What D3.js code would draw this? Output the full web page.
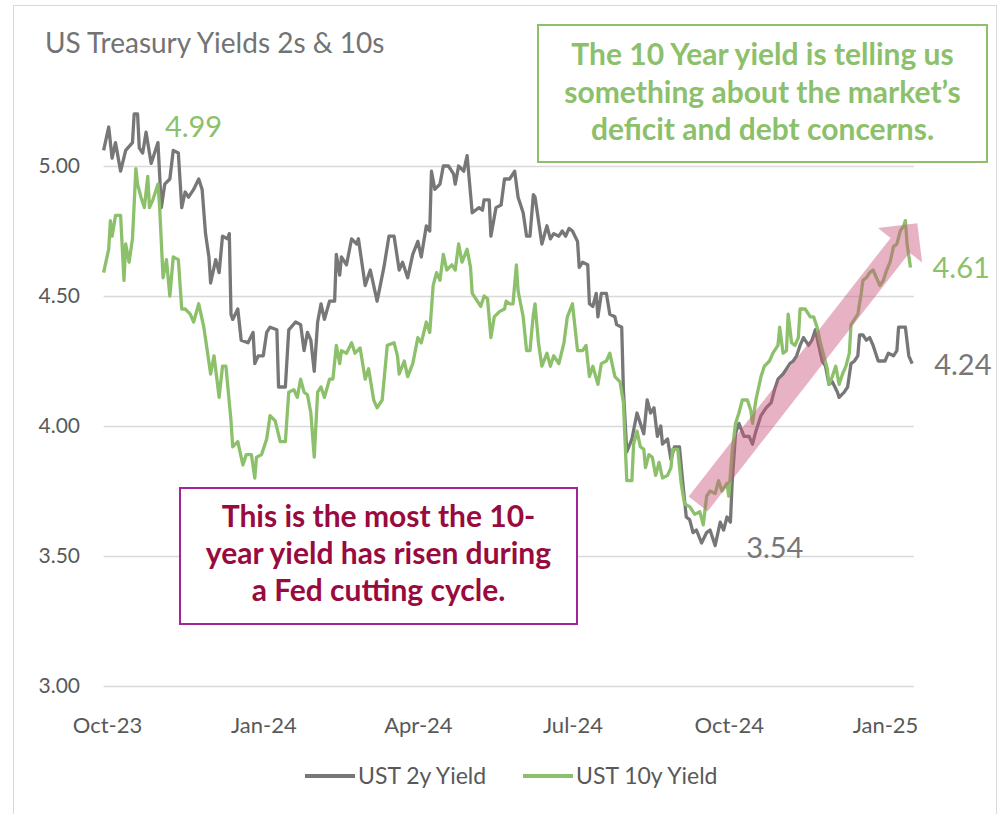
<!DOCTYPE html>
<html>
<head>
<meta charset="utf-8">
<style>
body { margin: 0; background: #fff; }
svg { display: block; font-family: Lato, "Open Sans", sans-serif; }
.grid line { stroke: #d9d9d9; stroke-width: 1.5px; }
.grid path, .axis path { display: none; }
.axis text { fill: #595959; font-family: Lato, "Open Sans", sans-serif; }
.series { fill: none; stroke-width: 3.3px; stroke-linejoin: round; }
</style>
</head>
<body>
<svg width="1002" height="814"></svg>
<script src="https://d3js.org/d3.v7.min.js"></script>
<script>

// UST 2y yield (%)
var ust2y = [
  ["2023-09-29",5.06],["2023-10-02",5.15],["2023-10-04",5.03],["2023-10-06",5.09],["2023-10-09",4.98],
  ["2023-10-12",5.06],["2023-10-16",5.09],["2023-10-17",5.20],["2023-10-19",5.20],["2023-10-20",5.07],
  ["2023-10-22",5.05],["2023-10-24",5.13],["2023-10-27",5.01],["2023-10-31",5.09],["2023-11-02",4.84],
  ["2023-11-04",4.93],["2023-11-07",4.95],["2023-11-09",5.06],["2023-11-12",5.05],["2023-11-14",4.84],
  ["2023-11-16",4.90],["2023-11-18",4.88],["2023-11-21",4.91],["2023-11-24",4.95],["2023-11-26",4.91],
  ["2023-11-28",4.74],["2023-11-30",4.65],["2023-12-01",4.55],["2023-12-04",4.64],["2023-12-06",4.59],
  ["2023-12-08",4.73],["2023-12-11",4.72],["2023-12-12",4.74],["2023-12-13",4.43],["2023-12-14",4.41],
  ["2023-12-17",4.45],["2023-12-19",4.33],["2023-12-23",4.32],["2023-12-26",4.36],["2023-12-27",4.24],
  ["2023-12-29",4.27],["2024-01-01",4.27],["2024-01-03",4.36],["2024-01-05",4.38],["2024-01-09",4.37],
  ["2024-01-10",4.15],["2024-01-14",4.15],["2024-01-16",4.37],["2024-01-20",4.40],["2024-01-23",4.39],
  ["2024-01-25",4.29],["2024-01-27",4.36],["2024-01-29",4.33],["2024-01-31",4.21],["2024-02-02",4.40],
  ["2024-02-04",4.47],["2024-02-06",4.41],["2024-02-09",4.48],["2024-02-12",4.48],["2024-02-13",4.66],
  ["2024-02-15",4.58],["2024-02-16",4.65],["2024-02-19",4.62],["2024-02-22",4.72],["2024-02-25",4.70],
  ["2024-02-26",4.72],["2024-03-01",4.54],["2024-03-04",4.60],["2024-03-08",4.48],["2024-03-12",4.61],
  ["2024-03-15",4.73],["2024-03-18",4.73],["2024-03-21",4.60],["2024-03-23",4.63],["2024-03-26",4.57],
  ["2024-03-29",4.66],["2024-04-01",4.71],["2024-04-03",4.65],["2024-04-06",4.77],["2024-04-08",4.75],
  ["2024-04-09",4.98],["2024-04-11",4.91],["2024-04-14",4.93],["2024-04-16",5.00],["2024-04-19",5.00],
  ["2024-04-22",4.97],["2024-04-23",4.93],["2024-04-25",5.00],["2024-04-28",4.98],["2024-04-30",5.04],
  ["2024-05-03",4.82],["2024-05-07",4.84],["2024-05-09",4.83],["2024-05-10",4.87],["2024-05-13",4.87],
  ["2024-05-14",4.73],["2024-05-17",4.84],["2024-05-20",4.85],["2024-05-22",4.95],["2024-05-25",4.95],
  ["2024-05-27",4.97],["2024-05-28",4.98],["2024-05-30",4.88],["2024-06-02",4.82],["2024-06-04",4.73],
  ["2024-06-06",4.73],["2024-06-08",4.89],["2024-06-09",4.88],["2024-06-13",4.70],["2024-06-16",4.77],
  ["2024-06-18",4.72],["2024-06-20",4.74],["2024-06-23",4.73],["2024-06-25",4.75],["2024-06-27",4.73],
  ["2024-06-29",4.76],["2024-07-01",4.75],["2024-07-04",4.71],["2024-07-05",4.61],["2024-07-07",4.63],
  ["2024-07-10",4.62],["2024-07-11",4.47],["2024-07-13",4.46],["2024-07-15",4.51],["2024-07-16",4.42],
  ["2024-07-18",4.51],["2024-07-21",4.51],["2024-07-23",4.43],["2024-07-26",4.42],["2024-07-27",4.39],
  ["2024-07-30",4.38],["2024-07-31",4.14],["2024-08-02",3.90],["2024-08-05",3.95],["2024-08-08",4.05],
  ["2024-08-10",4.01],["2024-08-12",3.97],["2024-08-14",4.10],["2024-08-16",4.05],["2024-08-18",4.07],
  ["2024-08-20",3.96],["2024-08-22",4.00],["2024-08-23",3.93],["2024-08-26",3.95],["2024-08-28",3.87],
  ["2024-08-30",3.92],["2024-09-02",3.92],["2024-09-04",3.78],["2024-09-06",3.65],["2024-09-08",3.64],
  ["2024-09-10",3.59],["2024-09-12",3.60],["2024-09-15",3.55],["2024-09-18",3.59],["2024-09-20",3.60],
  ["2024-09-23",3.54],["2024-09-26",3.63],["2024-09-28",3.60],["2024-09-30",3.65],["2024-10-02",3.63],
  ["2024-10-03",3.78],["2024-10-05",3.97],["2024-10-07",4.01],["2024-10-10",3.96],["2024-10-13",3.96],
  ["2024-10-15",3.93],["2024-10-17",3.98],["2024-10-20",4.04],["2024-10-23",4.07],["2024-10-26",4.09],
  ["2024-10-28",4.14],["2024-10-30",4.18],["2024-11-02",4.20],["2024-11-04",4.22],["2024-11-06",4.24],
  ["2024-11-08",4.25],["2024-11-10",4.27],["2024-11-12",4.31],["2024-11-14",4.34],["2024-11-17",4.31],
  ["2024-11-19",4.33],["2024-11-21",4.37],["2024-11-23",4.31],["2024-11-25",4.25],["2024-11-27",4.23],
  ["2024-11-29",4.16],["2024-12-01",4.17],["2024-12-04",4.13],["2024-12-05",4.11],["2024-12-08",4.13],
  ["2024-12-10",4.15],["2024-12-12",4.24],["2024-12-14",4.25],["2024-12-16",4.27],["2024-12-17",4.35],
  ["2024-12-19",4.35],["2024-12-21",4.33],["2024-12-23",4.34],["2024-12-25",4.31],["2024-12-28",4.25],
  ["2024-12-30",4.25],["2025-01-01",4.25],["2025-01-03",4.28],["2025-01-06",4.27],["2025-01-08",4.29],
  ["2025-01-09",4.38],["2025-01-13",4.38],["2025-01-15",4.27],["2025-01-17",4.24]
];

// UST 10y yield (%)
var ust10y = [
  ["2023-09-29",4.59],["2023-10-02",4.68],["2023-10-03",4.79],["2023-10-04",4.73],["2023-10-06",4.81],
  ["2023-10-09",4.81],["2023-10-11",4.56],["2023-10-12",4.70],["2023-10-14",4.63],["2023-10-16",4.72],
  ["2023-10-18",4.99],["2023-10-19",4.93],["2023-10-21",4.88],["2023-10-23",4.84],["2023-10-25",4.96],
  ["2023-10-26",4.84],["2023-10-28",4.87],["2023-10-31",4.93],["2023-11-01",4.84],["2023-11-03",4.57],
  ["2023-11-05",4.64],["2023-11-07",4.50],["2023-11-09",4.65],["2023-11-12",4.64],["2023-11-14",4.45],
  ["2023-11-16",4.45],["2023-11-19",4.43],["2023-11-21",4.40],["2023-11-24",4.47],["2023-11-27",4.38],
  ["2023-11-29",4.29],["2023-12-01",4.20],["2023-12-03",4.27],["2023-12-06",4.11],["2023-12-08",4.23],
  ["2023-12-10",4.23],["2023-12-13",4.02],["2023-12-14",3.92],["2023-12-17",3.94],["2023-12-20",3.85],
  ["2023-12-22",3.89],["2023-12-25",3.89],["2023-12-27",3.80],["2023-12-28",3.88],["2023-12-31",3.89],
  ["2024-01-03",3.95],["2024-01-05",4.04],["2024-01-08",4.02],["2024-01-11",3.94],["2024-01-14",3.94],
  ["2024-01-16",4.13],["2024-01-19",4.14],["2024-01-21",4.11],["2024-01-23",4.18],["2024-01-25",4.13],
  ["2024-01-27",4.12],["2024-01-29",4.05],["2024-01-31",3.88],["2024-02-02",4.13],["2024-02-04",4.15],
  ["2024-02-06",4.11],["2024-02-09",4.18],["2024-02-11",4.18],["2024-02-13",4.31],["2024-02-15",4.24],
  ["2024-02-16",4.29],["2024-02-19",4.28],["2024-02-22",4.32],["2024-02-24",4.28],["2024-02-27",4.30],
  ["2024-03-01",4.18],["2024-03-03",4.22],["2024-03-06",4.10],["2024-03-08",4.07],["2024-03-11",4.10],
  ["2024-03-14",4.31],["2024-03-18",4.32],["2024-03-20",4.27],["2024-03-21",4.20],["2024-03-24",4.25],
  ["2024-03-26",4.19],["2024-03-29",4.24],["2024-04-01",4.34],["2024-04-03",4.32],["2024-04-06",4.40],
  ["2024-04-08",4.36],["2024-04-10",4.54],["2024-04-12",4.59],["2024-04-14",4.56],["2024-04-16",4.66],
  ["2024-04-18",4.60],["2024-04-21",4.62],["2024-04-23",4.60],["2024-04-25",4.70],["2024-04-27",4.63],
  ["2024-04-30",4.68],["2024-05-02",4.61],["2024-05-03",4.51],["2024-05-06",4.48],["2024-05-08",4.46],
  ["2024-05-10",4.50],["2024-05-12",4.49],["2024-05-14",4.34],["2024-05-16",4.42],["2024-05-19",4.44],
  ["2024-05-22",4.45],["2024-05-23",4.48],["2024-05-25",4.47],["2024-05-27",4.47],["2024-05-29",4.62],
  ["2024-05-30",4.52],["2024-06-02",4.42],["2024-06-04",4.29],["2024-06-06",4.29],["2024-06-08",4.43],
  ["2024-06-09",4.47],["2024-06-11",4.32],["2024-06-13",4.23],["2024-06-16",4.28],["2024-06-18",4.23],
  ["2024-06-20",4.27],["2024-06-23",4.24],["2024-06-26",4.32],["2024-06-28",4.42],["2024-07-01",4.47],
  ["2024-07-02",4.41],["2024-07-04",4.29],["2024-07-07",4.29],["2024-07-09",4.31],["2024-07-11",4.19],
  ["2024-07-13",4.23],["2024-07-16",4.16],["2024-07-18",4.24],["2024-07-21",4.25],["2024-07-23",4.28],
  ["2024-07-26",4.19],["2024-07-29",4.17],["2024-07-31",4.09],["2024-08-02",3.79],["2024-08-05",3.79],
  ["2024-08-06",3.93],["2024-08-08",3.98],["2024-08-10",3.92],["2024-08-12",3.91],["2024-08-13",3.84],
  ["2024-08-15",3.89],["2024-08-17",3.88],["2024-08-19",3.81],["2024-08-21",3.86],["2024-08-23",3.80],
  ["2024-08-26",3.81],["2024-08-28",3.84],["2024-08-29",3.91],["2024-09-01",3.91],["2024-09-03",3.78],
  ["2024-09-05",3.70],["2024-09-08",3.69],["2024-09-11",3.66],["2024-09-14",3.67],["2024-09-16",3.62],
  ["2024-09-18",3.73],["2024-09-20",3.75],["2024-09-23",3.74],["2024-09-25",3.79],["2024-09-27",3.75],
  ["2024-09-30",3.78],["2024-10-01",3.73],["2024-10-03",3.90],["2024-10-05",4.01],["2024-10-07",4.05],
  ["2024-10-09",4.10],["2024-10-12",4.10],["2024-10-14",4.06],["2024-10-15",4.01],["2024-10-17",4.10],
  ["2024-10-20",4.19],["2024-10-22",4.23],["2024-10-25",4.25],["2024-10-27",4.28],["2024-10-30",4.31],
  ["2024-10-31",4.38],["2024-11-02",4.28],["2024-11-04",4.29],["2024-11-05",4.43],["2024-11-07",4.32],
  ["2024-11-09",4.31],["2024-11-11",4.34],["2024-11-12",4.45],["2024-11-15",4.45],["2024-11-18",4.42],
  ["2024-11-20",4.42],["2024-11-22",4.38],["2024-11-24",4.32],["2024-11-26",4.27],["2024-11-28",4.22],
  ["2024-11-29",4.16],["2024-12-01",4.19],["2024-12-03",4.23],["2024-12-05",4.16],["2024-12-07",4.20],
  ["2024-12-09",4.23],["2024-12-11",4.28],["2024-12-12",4.39],["2024-12-14",4.41],["2024-12-16",4.43],
  ["2024-12-18",4.51],["2024-12-19",4.56],["2024-12-21",4.57],["2024-12-23",4.59],["2024-12-25",4.60],
  ["2024-12-27",4.57],["2024-12-29",4.54],["2024-12-31",4.56],["2025-01-02",4.60],["2025-01-04",4.63],
  ["2025-01-06",4.69],["2025-01-08",4.70],["2025-01-10",4.75],["2025-01-12",4.77],["2025-01-13",4.79],
  ["2025-01-14",4.70],["2025-01-16",4.61]
];

var yTicks = [3.00, 3.50, 4.00, 4.50, 5.00];
var xTicks = ["2023-10-01", "2024-01-01", "2024-04-01", "2024-07-01", "2024-10-01", "2025-01-01"];
var seriesNames = ["UST 2y Yield", "UST 10y Yield"];
var seriesColors = ["#777777", "#8cc06b"];

// trend arrow drawn over the rise of the 10y (start, end)
var trendArrow = [["2024-09-13", 3.70], ["2025-01-20", 4.78]];

var greenNote = ["The 10 Year yield is telling us", "something about the market\u2019s", "deficit and debt concerns."];
var purpleNote = ["This is the most the 10-", "year yield has risen during", "a Fed cutting cycle."];

var parseDate = d3.timeParse("%Y-%m-%d");
var s2 = ust2y.map(function(d) { return {date: parseDate(d[0]), value: d[1]}; });
var s10 = ust10y.map(function(d) { return {date: parseDate(d[0]), value: d[1]}; });

var svg = d3.select("svg");

var x = d3.scaleTime()
    .domain([parseDate("2023-10-01"), parseDate("2025-01-01")])
    .range([107, 885]);
var y = d3.scaleLinear()
    .domain([3, 5])
    .range([686, 166]);

var plotLeft = x(parseDate("2023-09-29")),
    plotRight = x(parseDate("2025-01-18"));

// chart frame
svg.append("rect")
    .attr("x", 13.5).attr("y", 5.5)
    .attr("width", 983).attr("height", 840)
    .attr("fill", "#fff")
    .attr("stroke", "#d9d9d9");

// title
svg.append("text")
    .attr("x", 45).attr("y", 53)
    .attr("fill", "#737373")
    .style("font-size", "28px")
    .text("US Treasury Yields 2s & 10s");

// gridlines
svg.append("g")
    .attr("class", "grid")
    .attr("transform", "translate(" + plotLeft + ",0)")
    .call(d3.axisRight(y).tickValues(yTicks).tickSize(plotRight - plotLeft).tickFormat(""));

// y axis labels
svg.append("g")
    .attr("class", "axis")
    .attr("transform", "translate(107,0)")
    .call(d3.axisLeft(y).tickValues(yTicks).tickSize(0).tickPadding(27).tickFormat(d3.format(".2f")))
    .selectAll("text").style("font-size", "21px");

// x axis labels
svg.append("g")
    .attr("class", "axis")
    .attr("transform", "translate(0," + y(3) + ")")
    .call(d3.axisBottom(x).tickValues(xTicks.map(parseDate)).tickSize(0).tickPadding(31).tickFormat(d3.timeFormat("%b-%y")))
    .selectAll("text").style("font-size", "22px");

// annotation boxes
function noteBox(x0, y0, w, h, stroke, color, lines, baselines) {
    var g = svg.append("g");
    g.append("rect")
        .attr("x", x0).attr("y", y0).attr("width", w).attr("height", h)
        .attr("fill", "#fff").attr("stroke", stroke).attr("stroke-width", 2);
    g.selectAll("text").data(lines).enter().append("text")
        .attr("x", x0 + w / 2)
        .attr("y", function(d, i) { return baselines[i]; })
        .attr("text-anchor", "middle")
        .attr("fill", color)
        .style("font-size", "30px")
        .style("font-weight", "bold")
        .text(function(d) { return d; });
}
noteBox(538, 25, 449, 137, "#8cc06b", "#8cc06b", greenNote, [65, 103, 140]);
noteBox(180, 488, 397, 136, "#a3239c", "#990a3e", purpleNote, [527, 564, 601]);

// series
var line = d3.line()
    .x(function(d) { return x(d.date); })
    .y(function(d) { return y(d.value); });

svg.append("path").datum(s2)
    .attr("class", "series")
    .attr("stroke", seriesColors[0])
    .attr("d", line);
svg.append("path").datum(s10)
    .attr("class", "series")
    .attr("stroke", seriesColors[1])
    .attr("d", line);

// trend arrow
var ax0 = x(parseDate(trendArrow[0][0])), ay0 = y(trendArrow[0][1]),
    ax1 = x(parseDate(trendArrow[1][0])), ay1 = y(trendArrow[1][1]);
var len = Math.hypot(ax1 - ax0, ay1 - ay0),
    ux = (ax1 - ax0) / len, uy = (ay1 - ay0) / len,
    px = -uy, py = ux,
    shaft = 12, head = 28, headLen = 28;
var bx = ax1 - ux * headLen, by = ay1 - uy * headLen;
var arrowPts = [
    [ax0 + px * shaft, ay0 + py * shaft],
    [bx + px * shaft, by + py * shaft],
    [bx + px * head, by + py * head],
    [ax1, ay1],
    [bx - px * head, by - py * head],
    [bx - px * shaft, by - py * shaft],
    [ax0 - px * shaft, ay0 - py * shaft]
];
svg.append("polygon")
    .attr("points", arrowPts.map(function(p) { return p.join(","); }).join(" "))
    .attr("fill", "#c9577d")
    .attr("fill-opacity", 0.45);

// value labels
var peak10 = s10[d3.maxIndex(s10.filter(function(d) { return d.date < parseDate("2024-01-01"); }), function(d) { return d.value; })];
var min2 = s2[d3.minIndex(s2, function(d) { return d.value; })];
var last2 = s2[s2.length - 1], last10 = s10[s10.length - 1];
var fmt = d3.format(".2f");

function valueLabel(d, dx, dy, color) {
    svg.append("text")
        .attr("x", x(d.date) + dx)
        .attr("y", y(d.value) + dy)
        .attr("dy", "0.35em")
        .attr("fill", color)
        .style("font-size", "29px")
        .text(fmt(d.value));
}
valueLabel(peak10, 29, -42, seriesColors[1]);
valueLabel(last10, 22, 0, seriesColors[1]);
valueLabel(last2, 22, 1, seriesColors[0]);
valueLabel(min2, 31, 2, seriesColors[0]);

// legend
var legend = svg.append("g").attr("transform", "translate(0,776)");
var legendX = [305, 523];
seriesNames.forEach(function(name, i) {
    legend.append("line")
        .attr("x1", legendX[i]).attr("x2", legendX[i] + 50)
        .attr("stroke", seriesColors[i]).attr("stroke-width", 4);
    legend.append("text")
        .attr("x", legendX[i] + 53)
        .attr("dy", "0.35em")
        .attr("fill", "#595959")
        .style("font-size", "23px")
        .text(name);
});

</script>
</body>
</html>
